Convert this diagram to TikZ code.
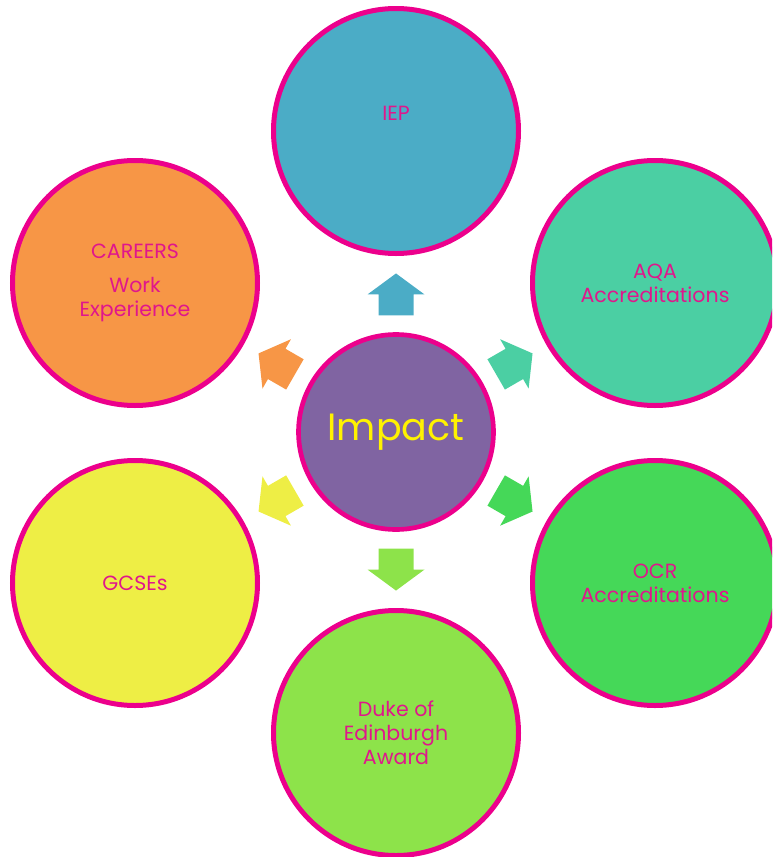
\documentclass[tikz,border=0pt]{standalone}
\usepackage{fontspec}
\setmainfont{Poppins}
\usetikzlibrary{calc}
\definecolor{rim}{HTML}{EC008C}
\definecolor{ink}{HTML}{E0168C}
\definecolor{hubc}{HTML}{8064A2}
\definecolor{iepc}{HTML}{4BACC6}
\definecolor{aqac}{HTML}{4BCFA3}
\definecolor{ocrc}{HTML}{45D858}
\definecolor{dukec}{HTML}{8DE34A}
\definecolor{gcsec}{HTML}{EEEE45}
\definecolor{carc}{HTML}{F79646}
\begin{document}
\begin{tikzpicture}[x=0.75pt, y=-0.75pt,
        bubble/.style={circle, draw=rim, line width=3.75pt, minimum size=183.75pt, inner sep=0pt,
            text=ink, align=center, font=\fontsize{15.4}{18}\selectfont},
        hub/.style={circle, draw=rim, line width=3.5pt, minimum size=146.25pt, inner sep=0pt,
            fill=hubc, text=yellow, font=\fontsize{28.5}{34}\selectfont},
        lbl/.style={text=ink, align=center, font=\fontsize{15.4}{18}\selectfont}]
                \useasboundingbox (0, 0) rectangle (772, 857);
                \clip (0, 0) rectangle (772, 857);

                \node [hub] (hub) at (396, 432) {Impact};

                \node [bubble, fill=iepc] (iep) at (396, 131) {};
                \node [lbl] (ieplbl) at (396, 113) {IEP};
                \node [bubble, fill=aqac] (aqa) at (655, 283) {AQA\\Accreditations};
                \node [bubble, fill=ocrc] (ocr) at (655, 583) {OCR\\Accreditations};
                \node [bubble, fill=dukec] (duke) at (396, 733) {Duke of\\Edinburgh\\Award};
                \node [bubble, fill=gcsec] (gcse) at (135, 583) {GCSEs};
                \node [bubble, fill=carc] (careers) at (135, 283) {CAREERS\\[7pt]Work\\Experience};

                % block arrows from the hub
                \foreach \to/\ang/\col in {iep/90/iepc, aqa/30/aqac, ocr/-30/ocrc,
                        duke/-90/dukec, gcse/210/gcsec, careers/150/carc} {
                    \fill [\col, shift={($(hub)!0.457!(\to)$)}, rotate=\ang]
                        (-21, -17.5) -- (0, -17.5) -- (0, -28.5) -- (21, 0)
                        -- (0, 28.5) -- (0, 17.5) -- (-21, 17.5) -- cycle;
                }
            \end{tikzpicture}
\end{document}
